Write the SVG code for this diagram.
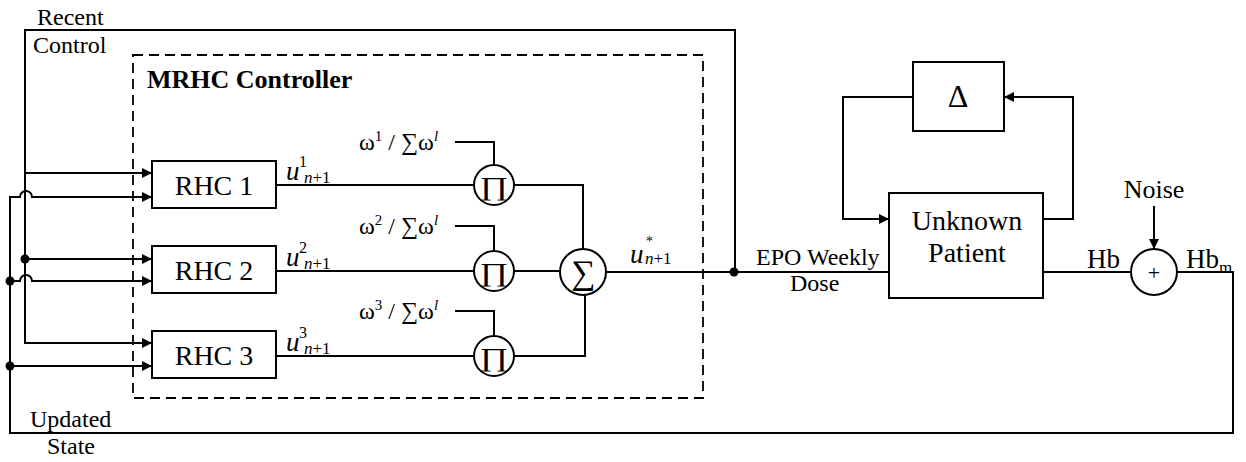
<svg xmlns="http://www.w3.org/2000/svg" width="1246" height="462" viewBox="0 0 1246 462">
<style>
  text { font-family: "Liberation Serif", "Times New Roman", serif; fill: #000; }
  .lbl { font-size: 24px; }
  .box-t { font-size: 28px; text-anchor: middle; }
  .it { font-style: italic; }
  .op { font-size: 26px; text-anchor: middle; }
  .blk { fill: #fff; stroke: #000; stroke-width: 2; }
  .wire { fill: none; stroke: #000; stroke-width: 2; }
  .dash { fill: none; stroke: #000; stroke-width: 1.8; stroke-dasharray: 10 6; }
  .dot { fill: #000; }
</style>
<defs>
  <marker id="arr" viewBox="0 0 10 10" refX="10" refY="5" markerWidth="10" markerHeight="11" markerUnits="userSpaceOnUse" orient="auto">
    <path d="M0,0 L10,5 L0,10 z" fill="#000"/>
  </marker>
</defs>
<rect width="1246" height="462" fill="#fff"/>

<g id="mrhc-controller">
  <rect class="dash" x="133" y="55" width="570" height="343"/>
  <text x="147" y="88" font-size="26" font-weight="bold">MRHC Controller</text>
</g>

<g id="connectors">
  <path class="wire" d="M735,272 V30 H25 V343 H152" marker-end="url(#arr)"/>
  <path class="wire" d="M25,173 H152" marker-end="url(#arr)"/>
  <path class="wire" d="M25,259 H152" marker-end="url(#arr)"/>
  <path class="wire" d="M1177,272 H1233 V433 H10 V197 H20 A6,6 0 0 1 32,197 H152" marker-end="url(#arr)"/>
  <path class="wire" d="M10,281 H20 A6,6 0 0 1 32,281 H152" marker-end="url(#arr)"/>
  <path class="wire" d="M10,366 H152" marker-end="url(#arr)"/>
  <path class="wire" d="M276,185 H474"/>
  <path class="wire" d="M276,271 H474"/>
  <path class="wire" d="M276,356 H474"/>
  <path class="wire" d="M455,142 H494 V165"/>
  <path class="wire" d="M455,226 H494 V251"/>
  <path class="wire" d="M455,311 H494 V336"/>
  <path class="wire" d="M514,185 H583 V249"/>
  <path class="wire" d="M514,271 H560"/>
  <path class="wire" d="M514,356 H585 V295"/>
  <path class="wire" d="M606,272 H889"/>
  <path class="wire" d="M913,97 H843 V219 H889" marker-end="url(#arr)"/>
  <path class="wire" d="M1043,219 H1073 V97 H1004" marker-end="url(#arr)"/>
  <path class="wire" d="M1043,272 H1131"/>
  <path class="wire" d="M1154,206 V249" marker-end="url(#arr)"/>
  <circle class="dot" cx="25" cy="259" r="4.5"/>
  <circle class="dot" cx="10" cy="281" r="4.5"/>
  <circle class="dot" cx="10" cy="366" r="4.5"/>
  <circle class="dot" cx="734" cy="272" r="4.5"/>
</g>

<g id="labels-left">
  <text class="lbl" x="37" y="25">Recent</text>
  <text class="lbl" x="33" y="53">Control</text>
  <text class="lbl" x="30" y="427">Updated</text>
  <text class="lbl" x="47" y="454">State</text>
</g>

<g id="rhc1">
  <rect class="blk" x="152" y="161" width="124" height="47"/>
  <text class="box-t" x="214" y="195">RHC 1</text>
</g>
<g id="rhc2">
  <rect class="blk" x="152" y="246" width="124" height="47"/>
  <text class="box-t" x="214" y="280">RHC 2</text>
</g>
<g id="rhc3">
  <rect class="blk" x="152" y="331" width="124" height="47"/>
  <text class="box-t" x="214" y="365">RHC 3</text>
</g>

<g id="u-labels">
  <text x="286" y="180" font-size="27" class="it">u</text>
  <text x="299" y="167" font-size="16">1</text>
  <text x="304" y="183" font-size="17"><tspan class="it">n</tspan>+1</text>
  <text x="286" y="266" font-size="27" class="it">u</text>
  <text x="299" y="253" font-size="16">2</text>
  <text x="304" y="269" font-size="17"><tspan class="it">n</tspan>+1</text>
  <text x="286" y="351" font-size="27" class="it">u</text>
  <text x="299" y="338" font-size="16">3</text>
  <text x="304" y="354" font-size="17"><tspan class="it">n</tspan>+1</text>
</g>

<g id="weight-labels">
  <text x="359" y="150" font-size="24">ω<tspan font-size="15" dy="-9">1</tspan><tspan dy="9"> / ∑ω</tspan><tspan font-size="15" dy="-9" class="it">l</tspan></text>
  <text x="359" y="234" font-size="24">ω<tspan font-size="15" dy="-9">2</tspan><tspan dy="9"> / ∑ω</tspan><tspan font-size="15" dy="-9" class="it">l</tspan></text>
  <text x="359" y="319" font-size="24">ω<tspan font-size="15" dy="-9">3</tspan><tspan dy="9"> / ∑ω</tspan><tspan font-size="15" dy="-9" class="it">l</tspan></text>
</g>

<g id="prod1">
  <circle class="blk" cx="494" cy="185" r="20"/>
  <text class="op" transform="translate(494,195) scale(1.35,1)">∏</text>
</g>
<g id="prod2">
  <circle class="blk" cx="494" cy="271" r="20"/>
  <text class="op" transform="translate(494,281) scale(1.35,1)">∏</text>
</g>
<g id="prod3">
  <circle class="blk" cx="494" cy="356" r="20"/>
  <text class="op" transform="translate(494,366) scale(1.35,1)">∏</text>
</g>

<g id="sum">
  <circle class="blk" cx="583" cy="272" r="23"/>
  <text x="583" y="284" font-size="34" text-anchor="middle">∑</text>
</g>

<g id="u-star-label">
  <text x="630" y="263" font-size="27" class="it">u</text>
  <text x="646" y="246" font-size="14">*</text>
  <text x="645" y="264" font-size="17"><tspan class="it">n</tspan>+1</text>
</g>

<g id="epo-label">
  <text class="lbl" x="756" y="265">EPO Weekly</text>
  <text class="lbl" x="790" y="291">Dose</text>
</g>

<g id="delta">
  <rect class="blk" x="913" y="62" width="91" height="69"/>
  <text x="958" y="107" font-size="32" text-anchor="middle">Δ</text>
</g>

<g id="patient">
  <rect class="blk" x="889" y="193" width="154" height="105"/>
  <text class="box-t" x="967" y="230">Unknown</text>
  <text class="box-t" x="967" y="262">Patient</text>
</g>

<g id="noise-sum">
  <circle class="blk" cx="1154" cy="272" r="23"/>
  <text x="1154" y="280" font-size="22" text-anchor="middle">+</text>
  <text x="1154" y="198" font-size="26" text-anchor="middle">Noise</text>
  <text x="1087" y="268" font-size="27">Hb</text>
  <text x="1186" y="268" font-size="27">Hb<tspan font-size="17" dy="5">m</tspan></text>
</g>
</svg>
